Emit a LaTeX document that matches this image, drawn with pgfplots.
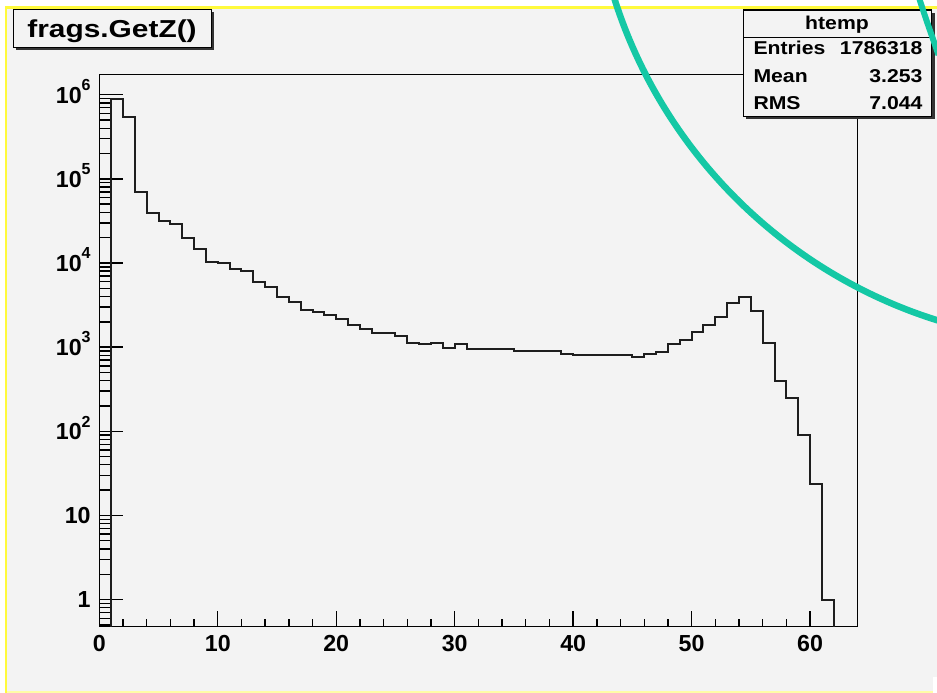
\documentclass[border=0pt]{standalone}
\usepackage{pgfplots}
\pgfplotsset{compat=1.18}
\usepackage{fontspec}
\setmainfont{Liberation Sans}
\usepackage{graphicx}
\definecolor{bg}{RGB}{243,243,243}
\definecolor{ylw}{RGB}{255,250,60}
\definecolor{teal2}{RGB}{20,200,165}
\definecolor{histc}{RGB}{30,30,30}
\newcommand{\sups}[1]{\raisebox{12.5pt}{\fontsize{16}{16}\selectfont #1}}
\newcommand{\st}[1]{\scalebox{1.14}[1]{\fontsize{18.6}{18.6}\selectfont\bfseries #1}}
\begin{document}
\begin{tikzpicture}
\begin{scope}[x=1pt,y=1pt]
\useasboundingbox (0,0) rectangle (937,693);
\fill[white] (0,0) rectangle (937,693);
\fill[bg] (7.3,2) rectangle (937,684.3);
\fill[ylw] (5,684.3) rectangle (937,687.3);
\fill[ylw] (5,0) rectangle (7.3,687.3);
\fill[ylw!45] (7.3,0.3) rectangle (937,2);
\fill[white] (932.5,0) rectangle (937,16);
\end{scope}
\begin{axis}[
  at={(99.3pt,66.3pt)}, anchor=south west, scale only axis,
  width=758.2pt, height=552pt,
  xmin=0, xmax=64, ymode=log, ymin=0.476, ymax=1.73e6,
  axis background/.style={fill=bg},
  axis line style={line width=1.5pt, black},
  tick align=inside, tick pos=left,
  major tick style={line width=1.4pt, black},
  minor tick style={line width=1.4pt, black},
  major tick length=24pt, minor tick length=12pt,
  xtick style={/pgfplots/major tick length=16pt, /pgfplots/minor tick length=8pt},
  xtick={0,10,20,30,40,50,60},
  xticklabels={0,10,20,30,40,50,60},
  minor xtick={2,4,6,8,12,14,16,18,22,24,26,28,32,34,36,38,42,44,46,48,52,54,56,58,62,64},
  ytick={1,10,100,1000,10000,100000,1000000},
  yticklabels={1,10,10\sups{2},10\sups{3},10\sups{4},10\sups{5},10\sups{6}},
  minor ytick={0.5,0.6,0.7,0.8,0.9,2,3,4,5,6,7,8,9,20,30,40,50,60,70,80,90,200,300,400,500,600,700,800,900,2000,3000,4000,5000,6000,7000,8000,9000,20000,30000,40000,50000,60000,70000,80000,90000,200000,300000,400000,500000,600000,700000,800000,900000},
  ticklabel style={font=\fontsize{23.2}{23.2}\selectfont\bfseries},
  xticklabel style={anchor=north, inner sep=0pt, yshift=-8.3pt},
  yticklabel style={anchor=base east, inner sep=0pt, xshift=-8.5pt, yshift=-8.3pt},
]
\addplot[const plot, line width=2pt, histc] coordinates {
(1,0.476) (1,897000) (2,537000) (3,70300) (4,39800) (5,32000) (6,29200) (7,20000) (8,14800) (9,10300) (10,10000)
(11,8600) (12,8080) (13,5980) (14,5200) (15,3960) (16,3480) (17,2800) (18,2610) (19,2380) (20,2170)
(21,1830) (22,1660) (23,1480) (24,1480) (25,1360) (26,1130) (27,1080) (28,1130) (29,989) (30,1080)
(31,955) (32,955) (33,955) (34,955) (35,912) (36,912) (37,912) (38,912) (39,832) (40,803)
(41,803) (42,803) (43,803) (44,803) (45,767) (46,839) (47,879) (48,1080) (49,1230) (50,1530)
(51,1810) (52,2270) (53,3360) (54,3960) (55,2680) (56,1120) (57,401) (58,247) (59,90.6) (60,23.7)
(61,0.98) (62,0.476)
};
\end{axis}
\begin{scope}[x=1pt,y=1pt]
% title box
\fill[black!80] (16,643) rectangle (214.2,681);
\filldraw[fill=bg, draw=black, line width=1.4pt] (13.3,645.5) rectangle (211.7,683.7);
\node[anchor=base, inner sep=0pt] at (112,655.7) {\scalebox{1.22}[1]{\fontsize{24.5}{24.5}\selectfont\bfseries frags.GetZ()}};
% stat box
\fill[black!80] (746.3,573.5) rectangle (934.7,680);
\filldraw[fill=bg, draw=black, line width=1.4pt] (743.3,576.3) rectangle (931.7,683);
\draw[black, line width=1.4pt] (743.3,655.7) -- (931.7,655.7);
\node[anchor=base, inner sep=0pt] at (837,663.7) {\st{htemp}};
\node[anchor=base west, inner sep=0pt] at (753.3,638) {\st{Entries}};
\node[anchor=base east, inner sep=0pt] at (922.7,638) {\st{1786318}};
\node[anchor=base west, inner sep=0pt] at (753.3,610.7) {\st{Mean}};
\node[anchor=base east, inner sep=0pt] at (922.7,610.7) {\st{3.253}};
\node[anchor=base west, inner sep=0pt] at (753.3,583) {\st{RMS}};
\node[anchor=base east, inner sep=0pt] at (922.7,583) {\st{7.044}};
% teal annotation
\clip (0,0) rectangle (937,693);
\draw[teal2, line width=6.5pt] (1084.4,843.3) circle (492.9);
\draw[teal2, line width=6pt] (918.5,697) .. controls (925,676) and (931,660) .. (938.5,638);
\end{scope}
\end{tikzpicture}
\end{document}
